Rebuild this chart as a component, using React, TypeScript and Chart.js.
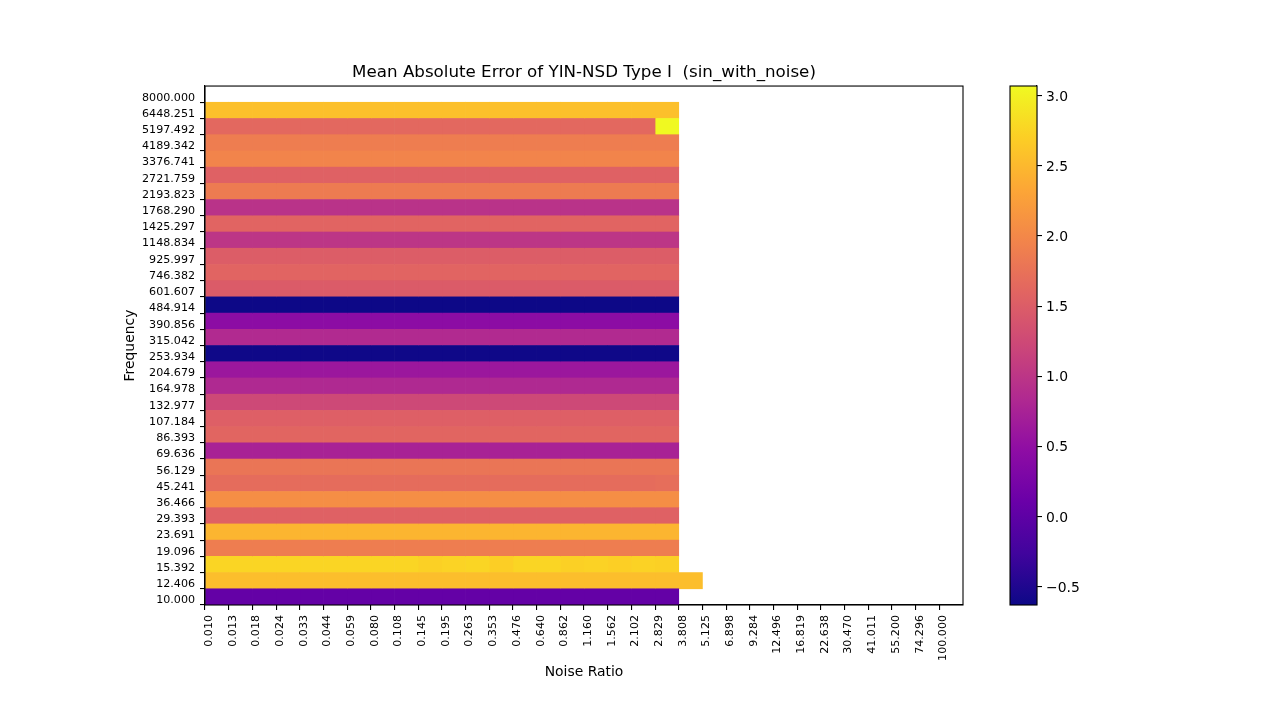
import { useEffect, useRef } from "react";
import { Chart, registerables } from "chart.js";

Chart.register(...registerables);
Chart.defaults.font.family = '"DejaVu Sans", sans-serif';
Chart.defaults.color = "#000";

// Frequency rows, top to bottom
const freqLabels = [
  "8000.000", "6448.251", "5197.492", "4189.342", "3376.741", "2721.759", "2193.823", "1768.290",
  "1425.297", "1148.834", "925.997", "746.382", "601.607", "484.914", "390.856", "315.042",
  "253.934", "204.679", "164.978", "132.977", "107.184", "86.393", "69.636", "56.129",
  "45.241", "36.466", "29.393", "23.691", "19.096", "15.392", "12.406", "10.000",
];

// Noise ratio columns, left to right
const noiseLabels = [
  "0.010", "0.013", "0.018", "0.024", "0.033", "0.044", "0.059", "0.080", "0.108", "0.145",
  "0.195", "0.263", "0.353", "0.476", "0.640", "0.862", "1.160", "1.562", "2.102", "2.829",
  "3.808", "5.125", "6.898", "9.284", "12.496", "16.819", "22.638", "30.470", "41.011", "55.200",
  "74.296", "100.000",
];

// Mean absolute error per frequency row (one value per noise column, missing = no data)
const maeByFrequency: number[][] = [
  [],
  [2.57, 2.57, 2.57, 2.57, 2.57, 2.57, 2.57, 2.57, 2.57, 2.57, 2.57, 2.57, 2.57, 2.57, 2.57, 2.57, 2.57, 2.57, 2.57, 2.57],
  [1.64, 1.64, 1.64, 1.64, 1.64, 1.64, 1.64, 1.64, 1.64, 1.64, 1.64, 1.64, 1.64, 1.64, 1.64, 1.64, 1.64, 1.64, 1.64, 3.07],
  [1.88, 1.88, 1.88, 1.88, 1.88, 1.88, 1.88, 1.88, 1.88, 1.88, 1.88, 1.88, 1.88, 1.88, 1.88, 1.88, 1.88, 1.88, 1.88, 1.88],
  [1.96, 1.96, 1.96, 1.96, 1.96, 1.96, 1.96, 1.96, 1.96, 1.96, 1.96, 1.96, 1.96, 1.96, 1.96, 1.96, 1.96, 1.96, 1.96, 1.96],
  [1.55, 1.55, 1.55, 1.55, 1.55, 1.55, 1.55, 1.55, 1.55, 1.55, 1.55, 1.55, 1.55, 1.55, 1.55, 1.55, 1.55, 1.55, 1.55, 1.55],
  [1.86, 1.86, 1.86, 1.86, 1.86, 1.86, 1.86, 1.86, 1.86, 1.86, 1.86, 1.86, 1.86, 1.86, 1.86, 1.86, 1.86, 1.86, 1.86, 1.86],
  [0.96, 0.96, 0.96, 0.96, 0.96, 0.96, 0.96, 0.96, 0.96, 0.96, 0.96, 0.96, 0.96, 0.96, 0.96, 0.96, 0.96, 0.96, 0.96, 0.96],
  [1.59, 1.59, 1.59, 1.59, 1.59, 1.59, 1.59, 1.59, 1.59, 1.59, 1.59, 1.59, 1.59, 1.59, 1.59, 1.59, 1.59, 1.59, 1.59, 1.59],
  [1.00, 1.00, 1.00, 1.00, 1.00, 1.00, 1.00, 1.00, 1.00, 1.00, 1.00, 1.00, 1.00, 1.00, 1.00, 1.00, 1.00, 1.00, 1.00, 1.00],
  [1.50, 1.50, 1.50, 1.50, 1.50, 1.50, 1.50, 1.50, 1.50, 1.50, 1.50, 1.50, 1.50, 1.50, 1.50, 1.50, 1.50, 1.50, 1.50, 1.50],
  [1.59, 1.59, 1.59, 1.59, 1.59, 1.59, 1.59, 1.59, 1.59, 1.59, 1.59, 1.59, 1.59, 1.59, 1.59, 1.59, 1.59, 1.59, 1.59, 1.59],
  [1.48, 1.48, 1.48, 1.48, 1.48, 1.48, 1.48, 1.48, 1.48, 1.48, 1.48, 1.48, 1.48, 1.48, 1.48, 1.48, 1.48, 1.48, 1.48, 1.48],
  [-0.632, -0.632, -0.632, -0.632, -0.632, -0.632, -0.632, -0.632, -0.632, -0.632, -0.632, -0.632, -0.632, -0.632, -0.632, -0.632, -0.632, -0.632, -0.632, -0.632],
  [0.45, 0.45, 0.45, 0.45, 0.45, 0.45, 0.45, 0.45, 0.45, 0.45, 0.45, 0.45, 0.45, 0.45, 0.45, 0.45, 0.45, 0.45, 0.45, 0.45],
  [0.85, 0.85, 0.85, 0.85, 0.85, 0.85, 0.85, 0.85, 0.85, 0.85, 0.85, 0.85, 0.85, 0.85, 0.85, 0.85, 0.85, 0.85, 0.85, 0.85],
  [-0.62, -0.62, -0.62, -0.62, -0.62, -0.62, -0.62, -0.62, -0.62, -0.62, -0.62, -0.62, -0.62, -0.62, -0.62, -0.62, -0.62, -0.62, -0.62, -0.62],
  [0.61, 0.61, 0.61, 0.61, 0.61, 0.61, 0.61, 0.61, 0.61, 0.61, 0.61, 0.61, 0.61, 0.61, 0.61, 0.61, 0.61, 0.61, 0.61, 0.61],
  [0.83, 0.83, 0.83, 0.83, 0.83, 0.83, 0.83, 0.83, 0.83, 0.83, 0.83, 0.83, 0.83, 0.83, 0.83, 0.83, 0.83, 0.83, 0.83, 0.83],
  [1.24, 1.24, 1.24, 1.24, 1.24, 1.24, 1.24, 1.24, 1.24, 1.24, 1.24, 1.24, 1.24, 1.24, 1.24, 1.24, 1.24, 1.24, 1.24, 1.24],
  [1.53, 1.53, 1.53, 1.53, 1.53, 1.53, 1.53, 1.53, 1.53, 1.53, 1.53, 1.53, 1.53, 1.53, 1.53, 1.53, 1.53, 1.53, 1.53, 1.53],
  [1.60, 1.60, 1.60, 1.60, 1.60, 1.60, 1.60, 1.60, 1.60, 1.60, 1.60, 1.60, 1.60, 1.60, 1.60, 1.60, 1.60, 1.60, 1.60, 1.60],
  [0.75, 0.75, 0.75, 0.75, 0.75, 0.75, 0.75, 0.75, 0.75, 0.75, 0.75, 0.75, 0.75, 0.75, 0.75, 0.75, 0.75, 0.75, 0.75, 0.75],
  [1.79, 1.79, 1.79, 1.79, 1.79, 1.79, 1.79, 1.79, 1.79, 1.79, 1.79, 1.79, 1.79, 1.79, 1.79, 1.79, 1.79, 1.79, 1.79, 1.79],
  [1.68, 1.68, 1.68, 1.68, 1.68, 1.68, 1.68, 1.68, 1.68, 1.68, 1.68, 1.68, 1.68, 1.68, 1.68, 1.68, 1.68, 1.68, 1.68, 1.70],
  [2.07, 2.07, 2.07, 2.07, 2.07, 2.07, 2.07, 2.07, 2.07, 2.07, 2.07, 2.07, 2.07, 2.07, 2.07, 2.07, 2.07, 2.07, 2.07, 2.07],
  [1.55, 1.55, 1.55, 1.55, 1.55, 1.55, 1.55, 1.55, 1.55, 1.55, 1.55, 1.55, 1.55, 1.55, 1.55, 1.55, 1.55, 1.55, 1.55, 1.55],
  [2.47, 2.47, 2.47, 2.47, 2.47, 2.47, 2.47, 2.47, 2.47, 2.47, 2.47, 2.47, 2.47, 2.47, 2.47, 2.47, 2.47, 2.47, 2.47, 2.47],
  [1.88, 1.88, 1.88, 1.88, 1.88, 1.88, 1.88, 1.88, 1.88, 1.88, 1.88, 1.88, 1.88, 1.88, 1.88, 1.88, 1.88, 1.88, 1.88, 1.88],
  [2.76, 2.76, 2.76, 2.76, 2.76, 2.76, 2.76, 2.76, 2.76, 2.72, 2.74, 2.76, 2.70, 2.76, 2.76, 2.72, 2.73, 2.71, 2.73, 2.72],
  [2.55, 2.55, 2.55, 2.55, 2.55, 2.55, 2.55, 2.55, 2.55, 2.55, 2.55, 2.55, 2.55, 2.55, 2.55, 2.55, 2.55, 2.55, 2.55, 2.55, 2.55],
  [0.05, 0.05, 0.05, 0.05, 0.05, 0.05, 0.05, 0.05, 0.05, 0.05, 0.05, 0.05, 0.05, 0.05, 0.05, 0.05, 0.05, 0.05, 0.05, 0.05],
];

// Colour scale limits and colourbar ticks
const vmin = -0.632;
const vmax = 3.07;
const colorbarTicks = [-0.5, 0.0, 0.5, 1.0, 1.5, 2.0, 2.5, 3.0];

const plasmaStops = [
  "#0d0887", "#41049d", "#6a00a8", "#8f0da4", "#b12a90", "#cc4778",
  "#e16462", "#f2844b", "#fca636", "#fcce25", "#f0f921",
];

function hexToRgb(hex: string) {
  const n = parseInt(hex.slice(1), 16);
  return [(n >> 16) & 255, (n >> 8) & 255, n & 255];
}

function plasma(t: number) {
  const c = Math.min(1, Math.max(0, t)) * (plasmaStops.length - 1);
  const i = Math.min(Math.floor(c), plasmaStops.length - 2);
  const f = c - i;
  const a = hexToRgb(plasmaStops[i]);
  const b = hexToRgb(plasmaStops[i + 1]);
  const mix = a.map((v, k) => Math.round(v + (b[k] - v) * f));
  return `rgb(${mix[0]}, ${mix[1]}, ${mix[2]})`;
}

const cellColor = (v: number) => plasma((v - vmin) / (vmax - vmin));

const framePlugin = {
  id: "frame",
  afterDraw(chart: Chart) {
    const { ctx, chartArea: a } = chart;
    ctx.save();
    ctx.strokeStyle = "#000";
    ctx.lineWidth = 1.1;
    ctx.strokeRect(a.left, a.top, a.right - a.left, a.bottom - a.top);
    ctx.restore();
  },
};

export default function App() {
  const heatRef = useRef<HTMLCanvasElement>(null);
  const barRef = useRef<HTMLCanvasElement>(null);

  useEffect(() => {
    if (!heatRef.current || !barRef.current) return;

    const columnCount = Math.max(...maeByFrequency.map((r) => r.length));
    const datasets = Array.from({ length: columnCount }, (_, c) => ({
      label: noiseLabels[c],
      data: maeByFrequency.map((row) => (c < row.length ? [c, c + 1] : null)),
      backgroundColor: maeByFrequency.map((row) =>
        c < row.length ? cellColor(row[c]) : "rgba(0,0,0,0)"
      ),
      borderWidth: 0,
      barPercentage: 1,
      categoryPercentage: 1,
      grouped: false,
    }));

    const heat = new Chart(heatRef.current, {
      type: "bar",
      data: { labels: freqLabels, datasets: datasets as any },
      options: {
        indexAxis: "y",
        animation: false,
        responsive: true,
        maintainAspectRatio: false,
        layout: { padding: { left: 115, right: 317, top: 0, bottom: 35 } },
        plugins: {
          legend: { display: false },
          tooltip: { enabled: false },
          title: {
            display: true,
            text: "Mean Absolute Error of YIN-NSD Type I  (sin_with_noise)",
            fullSize: false,
            color: "#000",
            font: { size: 16.7, weight: "normal" },
            padding: { top: 63, bottom: 3 },
          },
        },
        scales: {
          x: {
            type: "linear",
            min: 0,
            max: 32,
            afterBuildTicks: (scale: any) => {
              scale.ticks = noiseLabels.map((_, i) => ({ value: i }));
            },
            afterFit: (scale: any) => {
              scale.height = 80;
            },
            ticks: {
              autoSkip: false,
              minRotation: 90,
              maxRotation: 90,
              padding: 5,
              labelOffset: 4,
              font: { size: 11.1 },
              color: "#000",
              callback: (v: any) => noiseLabels[v] ?? "",
            },
            grid: { drawOnChartArea: false, tickLength: 5, color: "#000", lineWidth: 1.1 },
            border: { display: true, color: "#000", width: 1.1 },
            title: {
              display: true,
              text: "Noise Ratio",
              color: "#000",
              font: { size: 13.9 },
              padding: { top: 4, bottom: 4.6 },
            },
          },
          y: {
            type: "category",
            offset: true,
            afterFit: (scale: any) => {
              scale.width = 90;
            },
            ticks: {
              autoSkip: false,
              padding: 5,
              labelOffset: 3.5,
              font: { size: 11.1 },
              color: "#000",
            },
            grid: {
              offset: true,
              drawOnChartArea: false,
              tickLength: 5,
              lineWidth: 1.1,
              color: (ctx: any) => (ctx.index === 0 ? "rgba(0,0,0,0)" : "#000"),
            },
            border: { display: true, color: "#000", width: 1.1 },
            title: {
              display: true,
              text: "Frequency",
              color: "#000",
              font: { size: 13.9 },
              padding: { top: 6.6, bottom: 0 },
            },
          },
        },
      },
      plugins: [framePlugin],
    });

    const colorbar = new Chart(barRef.current, {
      type: "bar",
      data: {
        labels: ["MAE"],
        datasets: [
          {
            data: [[vmin, vmax]] as any,
            backgroundColor: (c: any) => {
              const area = c.chart.chartArea;
              if (!area) return plasma(0.5);
              const g = c.chart.ctx.createLinearGradient(0, area.bottom, 0, area.top);
              plasmaStops.forEach((s, i) => g.addColorStop(i / (plasmaStops.length - 1), s));
              return g;
            },
            borderWidth: 0,
            barPercentage: 1,
            categoryPercentage: 1,
          },
        ],
      },
      options: {
        animation: false,
        responsive: true,
        maintainAspectRatio: false,
        layout: { padding: { left: 10, right: 183, top: 86, bottom: 115 } },
        plugins: { legend: { display: false }, tooltip: { enabled: false } },
        scales: {
          x: { display: false },
          y: {
            position: "right",
            min: vmin,
            max: vmax,
            afterBuildTicks: (scale: any) => {
              scale.ticks = colorbarTicks.map((v) => ({ value: v }));
            },
            afterFit: (scale: any) => {
              scale.width = 60;
            },
            ticks: {
              padding: 4,
              labelOffset: 1.5,
              font: { size: 13.9 },
              color: "#000",
              callback: (v: any) => Number(v).toFixed(1).replace("-", "\u2212"),
            },
            grid: { drawOnChartArea: false, tickLength: 5, color: "#000", lineWidth: 1.1 },
            border: { display: true, color: "#000", width: 1.1 },
          },
        },
      },
      plugins: [framePlugin],
    });

    return () => {
      heat.destroy();
      colorbar.destroy();
    };
  }, []);

  return (
    <div style={{ position: "fixed", left: 0, top: 0, width: 1280, height: 720, background: "#fff" }}>
      <div style={{ position: "absolute", left: 0, top: 0, width: 1280, height: 720 }}>
        <canvas ref={heatRef}></canvas>
      </div>
      <div style={{ position: "absolute", left: 1000, top: 0, width: 280, height: 720 }}>
        <canvas ref={barRef}></canvas>
      </div>
    </div>
  );
}
